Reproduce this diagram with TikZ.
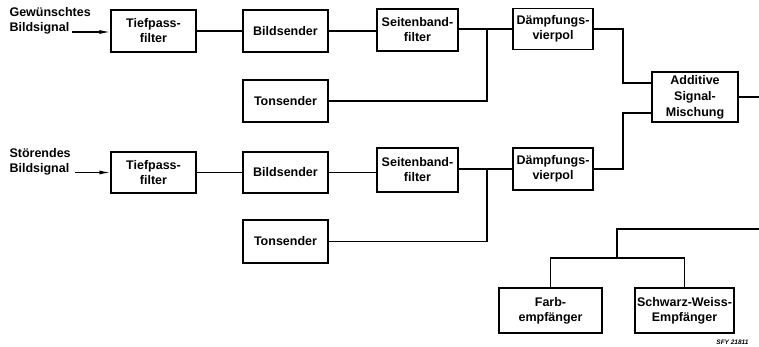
\documentclass[tikz,border=0pt]{standalone}
\usepackage{fontspec}
\setmainfont{Liberation Sans}
\usetikzlibrary{arrows.meta}
\begin{document}
\begin{tikzpicture}[x=1pt,y=-1pt,
  every node/.style={font=\fontsize{12.5}{15}\selectfont\bfseries},
  blockbox/.style={draw,line width=1.2pt,align=center,inner sep=0pt,minimum width=85pt,minimum height=42pt},
  wire/.style={line width=1.2pt},
  feed/.style={wire,-{Latex[length=11pt,width=4pt]}}]
\useasboundingbox (0,0) rectangle (759,347);

\node[anchor=west,align=left] (want) at (6,21) {Gewünschtes\\Bildsignal};
\node[blockbox] (tp1) at (153.5,31) {Tiefpass-\\filter};
\node[blockbox] (bs1) at (285.5,31) {Bildsender};
\node[blockbox,minimum width=81pt] (sb1) at (417.5,30) {Seitenband-\\filter};
\node[blockbox,minimum width=80pt,minimum height=41pt] (dv1) at (553,29) {Dämpfungs-\\vierpol};
\node[blockbox] (ts1) at (285.5,101) {Tonsender};
\node[blockbox,minimum width=86pt,minimum height=50pt,font=\fontsize{12.5}{16}\selectfont\bfseries] (mix) at (695,97) {Additive\\Signal-\\Mischung};

\node[anchor=west,align=left] (dist) at (6,162) {Störendes\\Bildsignal};
\node[blockbox,minimum height=41pt] (tp2) at (153.5,172.5) {Tiefpass-\\filter};
\node[blockbox,minimum height=41pt] (bs2) at (285.5,172.5) {Bildsender};
\node[blockbox,minimum width=81pt,minimum height=44pt] (sb2) at (417.5,170) {Seitenband-\\filter};
\node[blockbox,minimum width=80pt] (dv2) at (553,169) {Dämpfungs-\\vierpol};
\node[blockbox,minimum height=43pt] (ts2) at (285.5,241.5) {Tonsender};

\node[blockbox,minimum width=103pt,minimum height=45pt] (farb) at (550.5,310.5) {Farb-\\empfänger};
\node[blockbox,minimum width=99pt,minimum height=45pt] (sw) at (684.5,310.5) {Schwarz-Weiss-\\Empfänger};
\node[anchor=east,font=\fontsize{6.5}{7}\selectfont\bfseries\itshape] (mark) at (752,342) {SFY 21811};

\coordinate (a1) at (72,32);
\coordinate (a2) at (75,172.5);
\coordinate (j1) at (487,29);
\coordinate (j2) at (487,169);
\coordinate (m1) at (623,83);
\coordinate (m2) at (623,113);
\coordinate (out) at (759,97);
\coordinate (rx) at (759,229);
\coordinate (r1) at (617,258);

\draw[feed] (a1) -- (a1 -| tp1.west);
\draw[wire] (tp1) -- (bs1);
\draw[wire] (bs1) -- (bs1 -| sb1.west);
\draw[wire] (sb1.east |- j1) -- (dv1.west |- j1);
\draw[wire] (ts1.east) -| (j1);
\draw[wire] (dv1.east) -| (m1) -- (m1 -| mix.west);

\draw[feed] (a2) -- (a2 -| tp2.west);
\draw[wire] (tp2) -- (bs2);
\draw[wire] (bs2) -- (bs2 -| sb2.west);
\draw[wire] (sb2.east |- j2) -- (dv2.west |- j2);
\draw[wire] (ts2.east) -| (j2);
\draw[wire] (dv2.east) -| (m2) -- (m2 -| mix.west);

\draw[wire] (mix.east |- out) -- (out);
\draw[wire] (rx) -| (r1);
\draw[wire] (farb.north) |- (r1) -| (sw.north);
\end{tikzpicture}
\end{document}
